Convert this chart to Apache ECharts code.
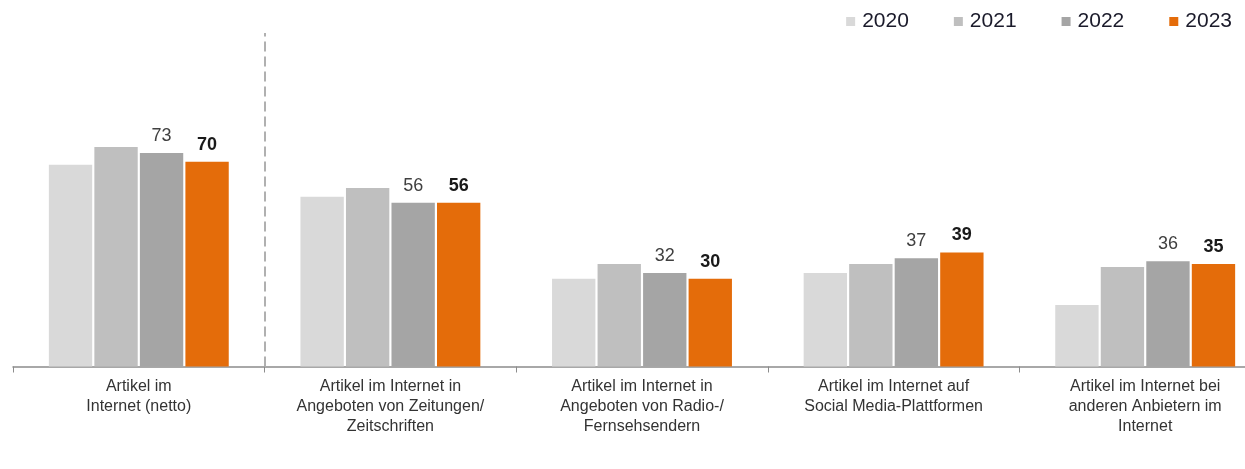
<!DOCTYPE html>
<html>
<head>
<meta charset="utf-8">
<script src="https://cdn.jsdelivr.net/npm/echarts@6/dist/echarts.min.js"></script>
<style>
html,body{margin:0;padding:0;background:#fff;}
#c{width:1245px;height:469px;}
</style>
</head>
<body>
<div id="c"></div>
<script>
const categories = [
  "Artikel im\nInternet (netto)",
  "Artikel im Internet in\nAngeboten von Zeitungen/\nZeitschriften",
  "Artikel im Internet in\nAngeboten von Radio-/\nFernsehsendern",
  "Artikel im Internet auf\nSocial Media-Plattformen",
  "Artikel im Internet bei\nanderen Anbietern im\nInternet"
];
const years = ["2020", "2021", "2022", "2023"];
const values2020 = [69, 58, 30, 32, 21];
const values2021 = [75, 61, 35, 35, 34];
const values2022 = [73, 56, 32, 37, 36];
const values2023 = [70, 56, 30, 39, 35];
const colors = ["#d9d9d9", "#bfbfbf", "#a5a5a5", "#e46c0a"];
const separatorAt = 0.5; // boundary between first and second category

const font = "Liberation Sans, Arial, sans-serif";
const chart = echarts.init(document.getElementById('c'), null, {renderer: 'canvas'});

function mkSeries(name, data, color, label) {
  return {
    name: name,
    type: 'bar',
    data: data,
    barGap: '5%',
    barCategoryGap: '28.5%',
    itemStyle: {color: color},
    label: label,
    emphasis: {disabled: true},
    silent: true
  };
}

const series = [
  mkSeries('2020', values2020, colors[0], {show: false}),
  mkSeries('2021', values2021, colors[1], {show: false}),
  mkSeries('2022', values2022, colors[2], {
    show: true, position: 'top', distance: 8,
    fontSize: 18, color: '#404040', fontFamily: font
  }),
  mkSeries('2023', values2023, colors[3], {
    show: true, position: 'top', distance: 8,
    fontSize: 18, fontWeight: 'bold', color: '#1a1a1a', fontFamily: font
  }),
  {
    name: 'separator',
    type: 'line',
    xAxisIndex: 1,
    data: [],
    silent: true,
    markLine: {
      silent: true,
      symbol: ['none', 'none'],
      label: {show: false},
      lineStyle: {color: '#b0b0b0', type: [10, 5], width: 2},
      data: [{xAxis: separatorAt}]
    }
  }
];

chart.setOption({
  animation: false,
  textStyle: {fontFamily: font},
  legend: {
    data: years,
    right: 8,
    top: 6,
    itemWidth: 9,
    itemHeight: 9,
    itemGap: 45,
    icon: 'rect',
    textStyle: {fontSize: 21, color: '#1a1a2a', fontFamily: font, padding: [0, 0, 0, 2]}
  },
  grid: {left: 13, top: 33, width: 1258, bottom: 102.5, containLabel: false, outerBoundsMode: 'none'},
  xAxis: [{
    type: 'category',
    data: categories,
    axisLine: {lineStyle: {color: '#8c8c8c', width: 1.5}},
    axisTick: {show: true, length: 6, lineStyle: {color: '#8c8c8c'}},
    axisLabel: {
      interval: 0,
      margin: 10,
      fontSize: 16,
      lineHeight: 20,
      color: '#333',
      fontFamily: font
    },
    splitLine: {show: false}
  }, {
    type: 'value',
    min: -0.5,
    max: categories.length - 0.5,
    show: false,
    splitLine: {show: false}
  }],
  yAxis: {
    type: 'value',
    min: 0,
    max: 114,
    show: false,
    splitLine: {show: false}
  },
  series: series
});
</script>
</body>
</html>
